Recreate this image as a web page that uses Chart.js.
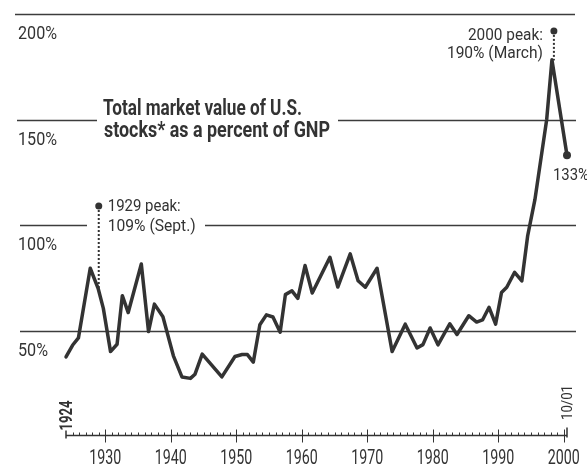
<!DOCTYPE html>
<html>
<head>
<meta charset="utf-8">
<title>Total market value of U.S. stocks as a percent of GNP</title>
<script src="https://cdn.jsdelivr.net/npm/chart.js@4.4.1/dist/chart.umd.min.js"></script>
<style>
  html, body { margin: 0; padding: 0; background: #ffffff; }
  #wrap { width: 587px; height: 465px; }
</style>
</head>
<body>
<div id="wrap"><canvas id="chart" width="587" height="465"></canvas></div>
<script>
// Market value / GNP (year, percent)
const years = [1924, 1925, 1925.9, 1927.7, 1928.9, 1929.7, 1930.8, 1931.8, 1932.6, 1933.5,
    1935.5, 1936.6, 1937.5, 1938.8, 1940.4, 1941.7, 1943.0, 1943.7, 1944.8, 1947.8,
    1949.8, 1950.9, 1951.7, 1952.6, 1953.6, 1954.6, 1955.6, 1956.7, 1957.5, 1958.5,
    1959.4, 1960.5, 1961.6, 1964.3, 1965.5, 1967.4, 1968.6, 1969.7, 1971.5, 1973.8,
    1975.8, 1977.6, 1978.5, 1979.6, 1980.8, 1982.6, 1983.7, 1985.5, 1986.7, 1987.6,
    1988.6, 1989.6, 1990.5, 1991.3, 1992.5, 1993.6, 1994.5, 1995.6, 1997.4, 1998.2, 2000.5];
const values = [37.5, 43, 46.5, 79.5, 70, 60.5, 40, 43.5, 66.5, 58.5,
    81.5, 49.5, 62.5, 56.5, 38, 28, 27.3, 29.3, 38.8, 28,
    37.7, 38.6, 38.6, 35, 52.7, 57.4, 56.4, 49.2, 67, 68.8,
    65.2, 80.8, 67.8, 84.7, 70.6, 86.3, 73.6, 70.5, 79.5, 40,
    53, 41.7, 43.3, 51.2, 43.2, 53.2, 48.1, 57, 54, 55,
    61, 53, 68, 70.5, 77.6, 73.5, 95, 112, 150, 178.3, 133];

// Peak markers and where their dotted leaders meet the line
const peakYears = [1929, 1998.5];
const peakValues = [109, 192];
const peakLineValues = [70, 178];
const peakLabels = [['1929 peak:', '109% (Sept.)'], ['2000 peak:', '190% (March)']];
const endLabel = '133%';

// Axes
const gridValues = [50, 100, 150, 200];
const gridLabels = ['50%', '100%', '150%', '200%'];
const decadeTicks = [1930, 1940, 1950, 1960, 1970, 1980, 1990, 2000];
const decadeLabels = ['1930', '1940', '1950', '1960', '1970', '1980', '1990', '2000'];
const startYear = 1924;
const endYear = 2000.5;
const startLabel = '1924';
const endDateLabel = '10/01';

const titleLines = ['Total market value of U.S.', 'stocks* as a percent of GNP'];

const INK = '#333333';
const FONT = '"Roboto", "Liberation Sans", "DejaVu Sans", sans-serif';

function drawText(ctx, text, x, y, size, bold, maxW, align) {
    ctx.font = (bold ? 'bold ' : '') + size + 'px ' + FONT;
    ctx.textAlign = align || 'left';
    ctx.textBaseline = 'alphabetic';
    ctx.fillStyle = INK;
    ctx.fillText(text, x, y, maxW);
}

// gridline pieces (left, right) per value, gaps leave room for labels
const gridPieces = {
    200: [[15, 575]],
    150: [[17, 97], [338, 576]],
    100: [[20, 87], [205, 576]],
    50: [[20, 576]]
};

const backdrop = {
    id: 'backdrop',
    beforeDatasetsDraw(chart) {
        const ctx = chart.ctx;
        const xs = chart.scales.x;
        const ys = chart.scales.y;
        ctx.save();

        // horizontal reference lines + labels
        ctx.strokeStyle = '#3c3c3c';
        ctx.lineWidth = 1.6;
        gridValues.forEach((v, i) => {
            const py = Math.round(ys.getPixelForValue(v)) + 0.5;
            gridPieces[v].forEach(seg => {
                ctx.beginPath();
                ctx.moveTo(seg[0], py);
                ctx.lineTo(seg[1], py);
                ctx.stroke();
            });
            const w = gridLabels[i].length === 3 ? 30 : 39;
            drawText(ctx, gridLabels[i], 18, py + 24, 18, false, w);
        });

        // time axis
        const base = Math.round(ys.getPixelForValue(0)) - 0.5;
        const x0 = xs.getPixelForValue(startYear);
        const x1 = xs.getPixelForValue(endYear);
        ctx.strokeStyle = INK;
        ctx.lineWidth = 1.5;
        ctx.beginPath();
        ctx.moveTo(x0, base);
        ctx.lineTo(x1, base);
        ctx.stroke();

        ctx.lineWidth = 1;
        for (let yr = startYear + 1; yr <= 2000; yr++) {
            const px = Math.round(xs.getPixelForValue(yr)) + 0.5;
            ctx.beginPath();
            if (yr % 10 === 0) {
                ctx.moveTo(px, base - 6);
                ctx.lineTo(px, base + 7);
            } else {
                ctx.moveTo(px, base - 3);
                ctx.lineTo(px, base);
            }
            ctx.stroke();
        }
        ctx.lineWidth = 1.5;
        ctx.beginPath();
        ctx.moveTo(x0, base - 5);
        ctx.lineTo(x0, base + 3);
        ctx.moveTo(x1, base - 8);
        ctx.lineTo(x1, base + 2);
        ctx.stroke();

        decadeTicks.forEach((yr, i) => {
            drawText(ctx, decadeLabels[i], xs.getPixelForValue(yr), base + 28, 20, false, 32, 'center');
        });

        // rotated start / end dates
        ctx.save();
        ctx.translate(x0 + 6, base - 20);
        ctx.rotate(-Math.PI / 2);
        drawText(ctx, startLabel, 0, 0, 18, true, 30, 'center');
        ctx.restore();
        ctx.save();
        ctx.translate(x1 + 5, base - 33);
        ctx.rotate(-Math.PI / 2);
        drawText(ctx, endDateLabel, 0, 0, 15, false, 35, 'center');
        ctx.restore();

        // dotted leaders from peak markers to the line
        ctx.strokeStyle = INK;
        ctx.lineWidth = 2;
        ctx.setLineDash([2, 2]);
        peakYears.forEach((yr, i) => {
            const px = xs.getPixelForValue(yr);
            ctx.beginPath();
            ctx.moveTo(px, ys.getPixelForValue(peakValues[i]));
            ctx.lineTo(px, ys.getPixelForValue(peakLineValues[i]));
            ctx.stroke();
        });
        ctx.setLineDash([]);
        ctx.restore();
    },
    afterDraw(chart) {
        const ctx = chart.ctx;
        const xs = chart.scales.x;
        const ys = chart.scales.y;
        ctx.save();

        // title
        drawText(ctx, titleLines[0], 103, 115, 22, true, 199);
        drawText(ctx, titleLines[1], 104, 137, 22, true, 226);

        // 1929 peak note
        const p1x = xs.getPixelForValue(peakYears[0]);
        const p1y = ys.getPixelForValue(peakValues[0]);
        drawText(ctx, peakLabels[0][0], p1x + 9, p1y + 5, 17, false, 73);
        drawText(ctx, peakLabels[0][1], p1x + 9, p1y + 25, 17, false, 88);

        // 2000 peak note
        const p2x = xs.getPixelForValue(peakYears[1]);
        const p2y = ys.getPixelForValue(peakValues[1]);
        drawText(ctx, peakLabels[1][0], p2x - 11, p2y + 9, 17, false, 75, 'right');
        drawText(ctx, peakLabels[1][1], p2x - 11, p2y + 27, 17, false, 96, 'right');

        // end value
        const ex = xs.getPixelForValue(years[years.length - 1]);
        const ey = ys.getPixelForValue(values[values.length - 1]);
        drawText(ctx, endLabel, ex - 14, ey + 25, 16, false, 36);
        ctx.restore();
    }
};

const lastIndex = values.length - 1;

new Chart(document.getElementById('chart'), {
    type: 'line',
    data: {
        datasets: [
            {
                data: years.map((yr, i) => ({ x: yr, y: values[i] })),
                borderColor: INK,
                borderWidth: 3.5,
                borderJoinStyle: 'round',
                borderCapStyle: 'round',
                tension: 0,
                fill: false,
                clip: false,
                pointRadius: ctx => ctx.dataIndex === lastIndex ? 4 : 0,
                pointBackgroundColor: INK,
                pointBorderWidth: 0
            },
            {
                type: 'scatter',
                data: peakYears.map((yr, i) => ({ x: yr, y: peakValues[i] })),
                showLine: false,
                clip: false,
                pointRadius: 3.5,
                pointBackgroundColor: INK,
                pointBorderWidth: 0
            }
        ]
    },
    options: {
        responsive: false,
        animation: false,
        events: [],
        layout: {
            padding: { left: 66, right: 20, top: 14, bottom: 29 }
        },
        plugins: {
            legend: { display: false },
            tooltip: { enabled: false }
        },
        scales: {
            x: { type: 'linear', min: startYear, max: endYear, display: false },
            y: { min: 0, max: 200, display: false }
        }
    },
    plugins: [backdrop]
});
</script>
</body>
</html>
